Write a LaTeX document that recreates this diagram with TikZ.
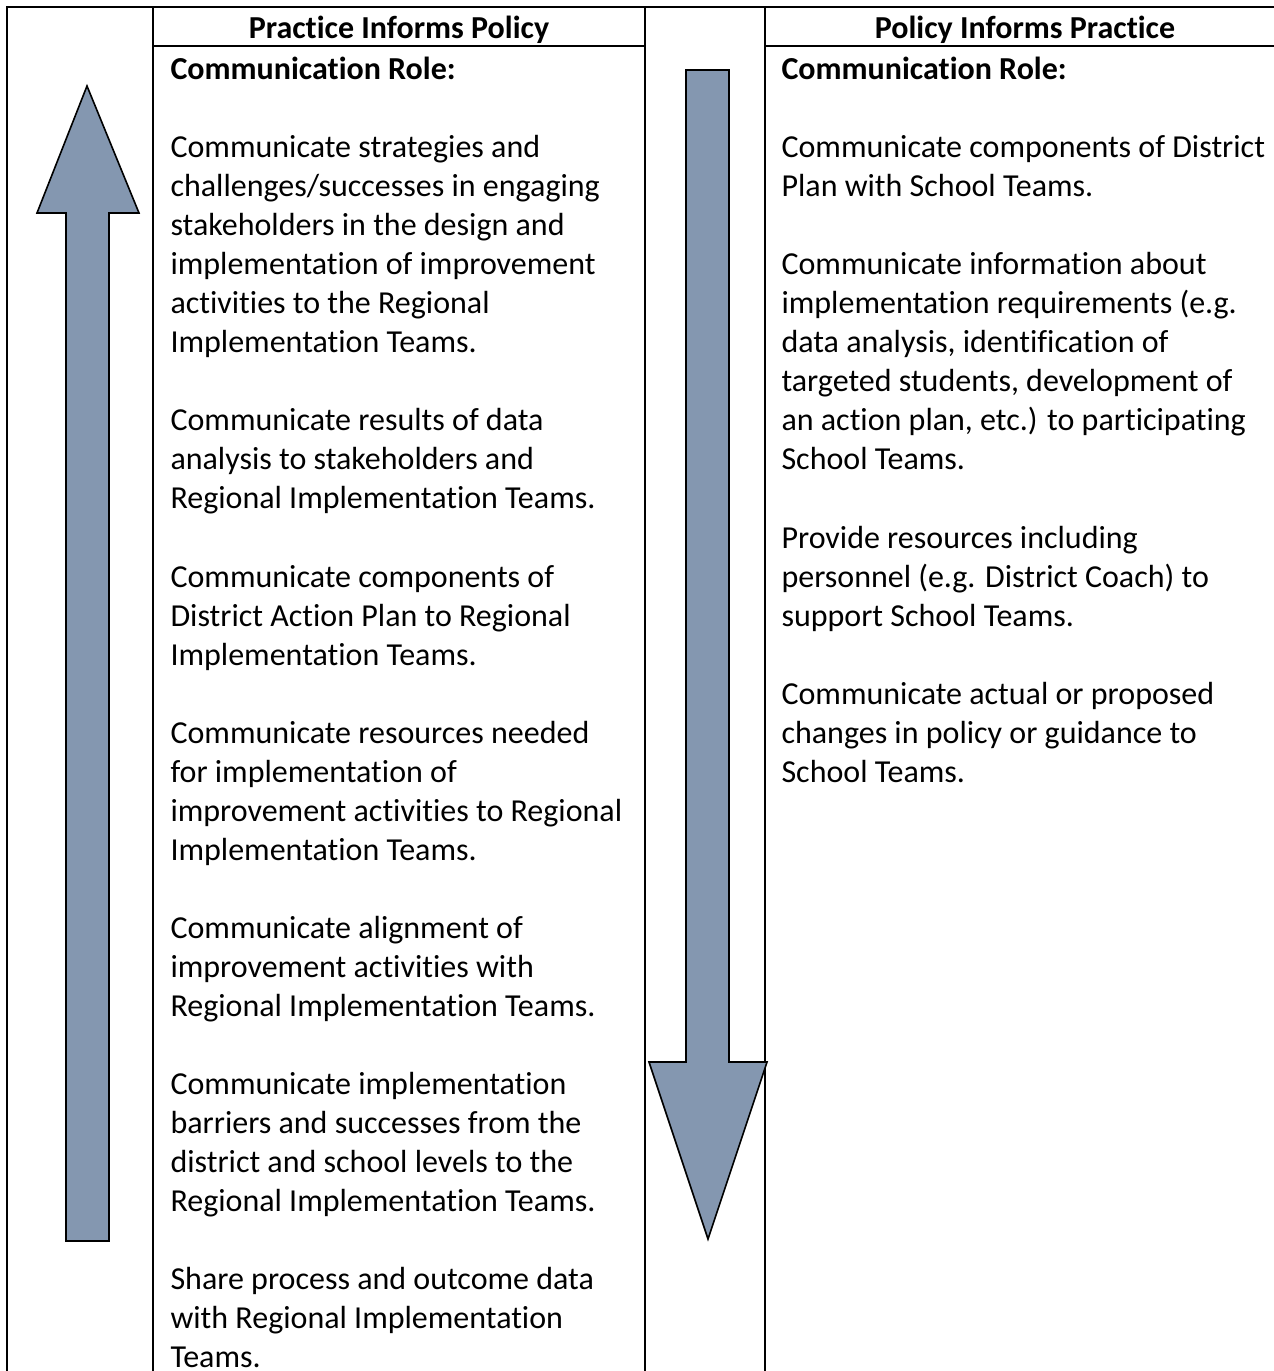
\documentclass[tikz,border=0pt]{standalone}
\usepackage{fontspec}
\setmainfont{Carlito}[Ligatures={NoCommon,NoContextual,NoRequired}, Contextuals=NoAlternate]
\definecolor{arrowblue}{HTML}{8497B0}
\begin{document}
\begin{tikzpicture}[x=0.375pt,y=-0.375pt,
  txt/.style={anchor=base west, inner sep=0pt, font=\fontsize{12}{14.625}\selectfont},
  btxt/.style={txt, font=\fontsize{12}{14.625}\selectfont\bfseries},
  hdr/.style={anchor=base, inner sep=0pt, font=\fontsize{12}{14.625}\selectfont\bfseries},
  rule/.style={line width=0.8pt, line cap=rect},
  arrowshape/.style={fill=arrowblue, draw=black, line width=0.6pt, line join=miter}]
\useasboundingbox (0,0) rectangle (1273,1371);
% table rules
\draw[rule] (7,7) -- (1273,7);
\draw[rule] (7,7) -- (7,1371);
\draw[rule] (153,7) -- (153,1371);
\draw[rule] (645,7) -- (645,1371);
\draw[rule] (765,7) -- (765,1371);
\draw[rule] (153,46) -- (645,46);
\draw[rule] (765,46) -- (1273,46);
% headers
\node[hdr] (h1) at (399,39) {Practice Informs Policy};
\node[hdr] (h2) at (1025,39) {Policy Informs Practice};
% arrows
\draw[arrowshape] (87,86) -- (139,213) -- (109,213) -- (109,1241) -- (66,1241) -- (66,213) -- (37,213) -- cycle;
\draw[arrowshape] (686,70) -- (729,70) -- (729,1062) -- (767,1062) -- (708,1239) -- (649,1062) -- (686,1062) -- cycle;
% left column
\node[btxt] (lrole) at (170,80) {Communication Role:};
\foreach \k/\t in {
  2/{Communicate strategies and},
  3/{challenges/successes in engaging},
  4/{stakeholders in the design and},
  5/{implementation of improvement},
  6/{activities to the Regional},
  7/{Implementation Teams.},
  9/{Communicate results of data},
  10/{analysis to stakeholders and},
  11/{Regional Implementation Teams.},
  13/{Communicate components of},
  14/{District Action Plan to Regional},
  15/{Implementation Teams.},
  17/{Communicate resources needed},
  18/{for implementation of},
  19/{improvement activities to Regional},
  20/{Implementation Teams.},
  22/{Communicate alignment of},
  23/{improvement activities with},
  24/{Regional Implementation Teams.},
  26/{Communicate implementation},
  27/{barriers and successes from the},
  28/{district and school levels to the},
  29/{Regional Implementation Teams.},
  31/{Share process and outcome data},
  32/{with Regional Implementation},
  33/{Teams.}}
  \node[txt] (L\k) at (170,{80+39*\k}) {\t};
% right column
\node[btxt] (rrole) at (781,80) {Communication Role:};
\foreach \k/\t in {
  2/{Communicate components of District},
  3/{Plan with School Teams.},
  5/{Communicate information about},
  6/{implementation requirements (e.g.},
  7/{data analysis, identification of},
  8/{targeted students, development of},
  9/{an action plan, etc.) to participating},
  10/{School Teams.},
  12/{Provide resources including},
  13/{personnel (e.g. District Coach) to},
  14/{support School Teams.},
  16/{Communicate actual or proposed},
  17/{changes in policy or guidance to},
  18/{School Teams.}}
  \node[txt] (R\k) at (781,{80+39*\k}) {\t};
\end{tikzpicture}
\end{document}
